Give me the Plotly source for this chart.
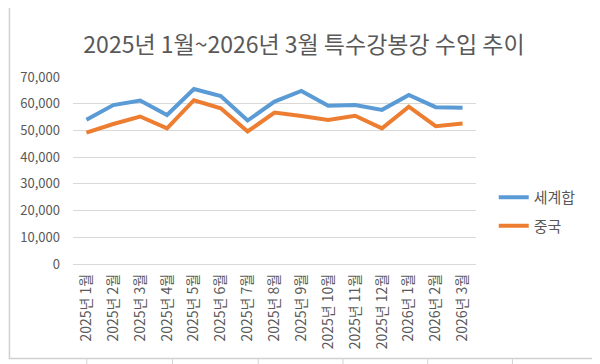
import plotly.graph_objects as go

months = ["2025년 1월", "2025년 2월", "2025년 3월", "2025년 4월", "2025년 5월", "2025년 6월",
          "2025년 7월", "2025년 8월", "2025년 9월", "2025년 10월", "2025년 11월", "2025년 12월",
          "2026년 1월", "2026년 2월", "2026년 3월"]
world = [54000, 59500, 61200, 55800, 65500, 62900, 53700, 60800, 64800, 59200, 59500, 57700, 63300, 58700, 58500]
china = [49200, 52400, 55200, 50800, 61300, 58300, 49600, 56700, 55400, 53900, 55500, 50800, 58900, 51600, 52600]
y_ticks = [0, 10000, 20000, 30000, 40000, 50000, 60000, 70000]

FONT = "Noto Sans CJK KR"
TXT = "#595959"

fig = go.Figure()
fig.add_trace(go.Scatter(x=months, y=world, name="세계합", mode="lines",
                         line=dict(color="#5B9BD5", width=4), legendgroup="a"))
fig.add_trace(go.Scatter(x=months, y=china, name="중국", mode="lines",
                         line=dict(color="#ED7D31", width=4), legendgroup="b"))

OFF = 8  # page body margin
W, H = 600 - OFF, 364 - OFF
L, T, PW, PH = 67 - OFF, 77 - OFF, 409, 187


def px(x):  # page x -> paper
    return (x - OFF - L) / PW


def py(y):  # page y -> paper
    return (T + PH - (y - OFF)) / PH


shapes = []
for gx in [81, 168, 255, 341, 427, 513]:
    shapes.append(dict(type="line", xref="paper", yref="paper", x0=px(gx), x1=px(gx), y0=py(359), y1=py(366),
                       line=dict(color="#d4d4d4", width=1)))
shapes.append(dict(type="rect", xref="paper", yref="paper", x0=px(2.5), x1=px(596.5), y0=py(5.5), y1=py(358.5),
                   line=dict(color="#d0d0d0", width=1.5), layer="below"))

fig.update_layout(
    width=W, height=H,
    margin=dict(l=L, r=W - L - PW, t=T, b=H - T - PH, pad=0),
    paper_bgcolor="white", plot_bgcolor="white",
    font=dict(family=FONT, color=TXT, size=13),
    title=dict(text="2025년 1월~2026년 3월 특수강봉강 수입 추이", x=0.5, xanchor="center",
               y=1 - (45 - OFF) / H, yanchor="middle", font=dict(size=23, color=TXT, family=FONT)),
    showlegend=True,
    legend=dict(x=px(494), y=py(181), xanchor="left", yanchor="top", font=dict(size=15, color=TXT),
                tracegroupgap=6, itemwidth=30, bgcolor="rgba(0,0,0,0)"),
    shapes=shapes,
)
fig.update_xaxes(type="category", range=[-0.5, len(months) - 0.5], tickangle=-90, showgrid=False,
                 showline=False, ticks="", tickfont=dict(size=14, color=TXT, family=FONT),
                 ticklabelstandoff=6, fixedrange=True)
fig.update_yaxes(range=[0, 70000], tickvals=y_ticks, ticktext=[f"{v:,}" for v in y_ticks],
                 showgrid=True, gridcolor="#d9d9d9", gridwidth=1, zeroline=True, zerolinecolor="#d9d9d9",
                 zerolinewidth=1, showline=False, ticks="", tickfont=dict(size=13, color=TXT, family=FONT),
                 ticklabelstandoff=12, fixedrange=True)

fig.write_html("out.html")
